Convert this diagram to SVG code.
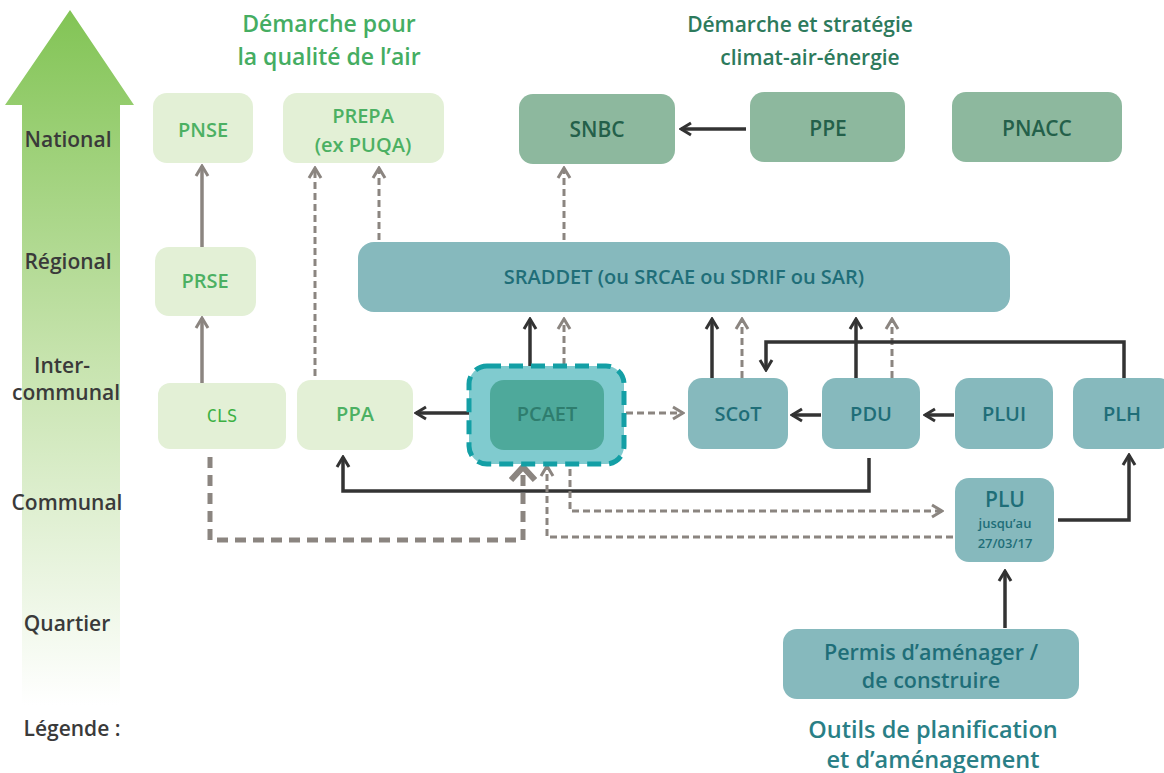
<svg xmlns="http://www.w3.org/2000/svg" width="1164" height="773" viewBox="0 0 1164 773">
<defs>
<linearGradient id="lvl" x1="0" y1="0" x2="0" y2="1">
<stop offset="0" stop-color="#82c455"/>
<stop offset="0.5" stop-color="#c6e3ad"/>
<stop offset="1" stop-color="#ffffff"/>
</linearGradient>
<marker id="ad" viewBox="0 0 14 16" refX="12" refY="8" markerWidth="14" markerHeight="16" markerUnits="userSpaceOnUse" orient="auto">
<path d="M2,2 L12,8 L2,14" fill="none" stroke="#333" stroke-width="3"/>
</marker>
<marker id="ag" viewBox="0 0 14 16" refX="12" refY="8" markerWidth="14" markerHeight="16" markerUnits="userSpaceOnUse" orient="auto">
<path d="M2,2 L12,8 L2,14" fill="none" stroke="#8b8580" stroke-width="3"/>
</marker>
<marker id="agb" viewBox="0 0 18 28" refX="15" refY="14" markerWidth="18" markerHeight="28" markerUnits="userSpaceOnUse" orient="auto">
<path d="M2,2 L15,14 L2,26" fill="none" stroke="#8b8580" stroke-width="6"/>
</marker>
</defs>
<style>
text{font-family:"Open Sans","Noto Sans","Liberation Sans",sans-serif;text-anchor:middle;font-weight:600}
.lvl{fill:#3a3a3a;font-size:21px}
.hg{fill:#45ad62;font-size:23px}
.hd{fill:#2d7a5c;font-size:21px}
.ht{fill:#2a7f86;font-size:23.5px}
.ng rect{fill:#e3f0d6}
.ng text{fill:#4cb063;font-size:20px}
.nd rect{fill:#8db89e}
.nd text{fill:#24604a;font-size:21px}
.nt rect{fill:#86b9bd}
.nt text{fill:#1f6e78;font-size:20px}
.sd{fill:none;stroke:#333;stroke-width:3.5;marker-end:url(#ad)}
.sg{fill:none;stroke:#8b8580;stroke-width:3.5;marker-end:url(#ag)}
.dg{fill:none;stroke:#8b8580;stroke-width:3;stroke-dasharray:7 4;marker-end:url(#ag)}
.dgb{fill:none;stroke:#8b8580;stroke-width:5;stroke-dasharray:11 7;marker-end:url(#agb)}
</style>
<rect width="1164" height="773" fill="#ffffff"/>
<g id="levels">
<polygon points="70,10 134,105 120,105 120,705 22,705 22,105 5,105" fill="url(#lvl)"/>
<text class="lvl" x="68" y="147">National</text>
<text class="lvl" x="68" y="269">Régional</text>
<text class="lvl" x="62" y="373">Inter-</text>
<text class="lvl" x="66" y="400">communal</text>
<text class="lvl" x="67" y="510">Communal</text>
<text class="lvl" x="67" y="631">Quartier</text>
<text class="lvl" x="72" y="736">Légende :</text>
</g>
<g id="headers">
<text class="hg" x="329" y="32">Démarche pour</text>
<text class="hg" x="329" y="65">la qualité de l’air</text>
<text class="hd" x="800" y="32">Démarche et stratégie</text>
<text class="hd" x="810" y="65">climat-air-énergie</text>
<text class="ht" x="933" y="738">Outils de planification</text>
<text class="ht" x="933" y="768">et d’aménagement</text>
</g>
<g id="connectors">
<path class="sg" d="M202,383 L202,318"/>
<path class="sg" d="M202,247 L202,166"/>
<path class="dg" d="M315,376 L315,168"/>
<path class="dg" d="M379,240 L379,168"/>
<path class="dg" d="M564,240 L564,168"/>
<path class="sd" d="M746,129 L681,129"/>
<path class="sd" d="M530,376 L530,319"/>
<path class="dg" d="M564,376 L564,319"/>
<path class="sd" d="M712,378 L712,319"/>
<path class="dg" d="M742,378 L742,319"/>
<path class="sd" d="M856,378 L856,319"/>
<path class="dg" d="M892,378 L892,319"/>
<path class="sd" d="M1124,378 L1124,342 L766,342 L766,370"/>
<path class="sd" d="M490,413 L416,413"/>
<path class="dg" d="M604,413 L683,413"/>
<path class="sd" d="M821,415 L792,415"/>
<path class="sd" d="M954,415 L925,415"/>
<path class="sd" d="M869,458 L869,491 L343,491 L343,457"/>
<path class="dgb" d="M210,457 L210,540 L523,540 L523,467"/>
<path class="dg" d="M570,458 L570,511 L942,511"/>
<path class="dg" d="M953,537 L547,537 L547,466"/>
<path class="sd" d="M1058,520 L1129,520 L1129,455"/>
<path class="sd" d="M1005,628 L1005,571"/>
</g>
<g id="PNSE" class="ng"><rect x="153" y="93" width="100" height="70" rx="14"/><text x="203" y="137">PNSE</text></g>
<g id="PREPA" class="ng"><rect x="283" y="93" width="161" height="70" rx="14"/><text x="363" y="123">PREPA</text><text x="363" y="152">(ex PUQA)</text></g>
<g id="PRSE" class="ng"><rect x="155" y="247" width="101" height="69" rx="14"/><text x="205" y="288">PRSE</text></g>
<g id="CLS" class="ng"><rect x="158" y="383" width="128" height="66" rx="12"/><text x="222" y="422" style="font-family:'DejaVu Sans Mono','Liberation Mono',monospace;font-weight:400;font-size:17px;fill:#3cb043">CLS</text></g>
<g id="PPA" class="ng"><rect x="297" y="380" width="116" height="70" rx="14"/><text x="355" y="421">PPA</text></g>
<g id="SNBC" class="nd"><rect x="519" y="94" width="156" height="70" rx="14"/><text x="597" y="137">SNBC</text></g>
<g id="PPE" class="nd"><rect x="750" y="92" width="155" height="70" rx="14"/><text x="828" y="136">PPE</text></g>
<g id="PNACC" class="nd"><rect x="952" y="92" width="170" height="70" rx="14"/><text x="1037" y="136">PNACC</text></g>
<g id="SRADDET" class="nt"><rect x="358" y="242" width="652" height="70" rx="16"/><text x="684" y="284">SRADDET (ou SRCAE ou SDRIF ou SAR)</text></g>
<g id="PCAET">
<rect x="469" y="366" width="155" height="98" rx="18" fill="#80cbcf" stroke="#139fa5" stroke-width="5" stroke-dasharray="14 8"/>
<rect x="490" y="380" width="114" height="70" rx="14" fill="#4ea99b"/>
<text x="547" y="421" style="fill:#2e7d6e;font-size:20px">PCAET</text>
</g>
<g id="SCoT" class="nt"><rect x="688" y="378" width="100" height="71" rx="14"/><text x="738" y="421">SCoT</text></g>
<g id="PDU" class="nt"><rect x="822" y="378" width="98" height="71" rx="14"/><text x="871" y="421">PDU</text></g>
<g id="PLUI" class="nt"><rect x="955" y="378" width="98" height="71" rx="14"/><text x="1004" y="421">PLUI</text></g>
<g id="PLH" class="nt"><rect x="1073" y="378" width="100" height="71" rx="14"/><text x="1122" y="421">PLH</text></g>
<g id="PLU" class="nt"><rect x="955" y="478" width="99" height="84" rx="14"/><text x="1005" y="507" style="font-size:21px">PLU</text><text x="1005" y="528" style="font-size:13px">jusqu’au</text><text x="1005" y="548" style="font-size:13px">27/03/17</text></g>
<g id="Permis" class="nt"><rect x="783" y="629" width="296" height="70" rx="14"/><text x="931" y="660" style="font-size:21.5px">Permis d’aménager /</text><text x="931" y="688" style="font-size:21.5px">de construire</text></g>
</svg>
